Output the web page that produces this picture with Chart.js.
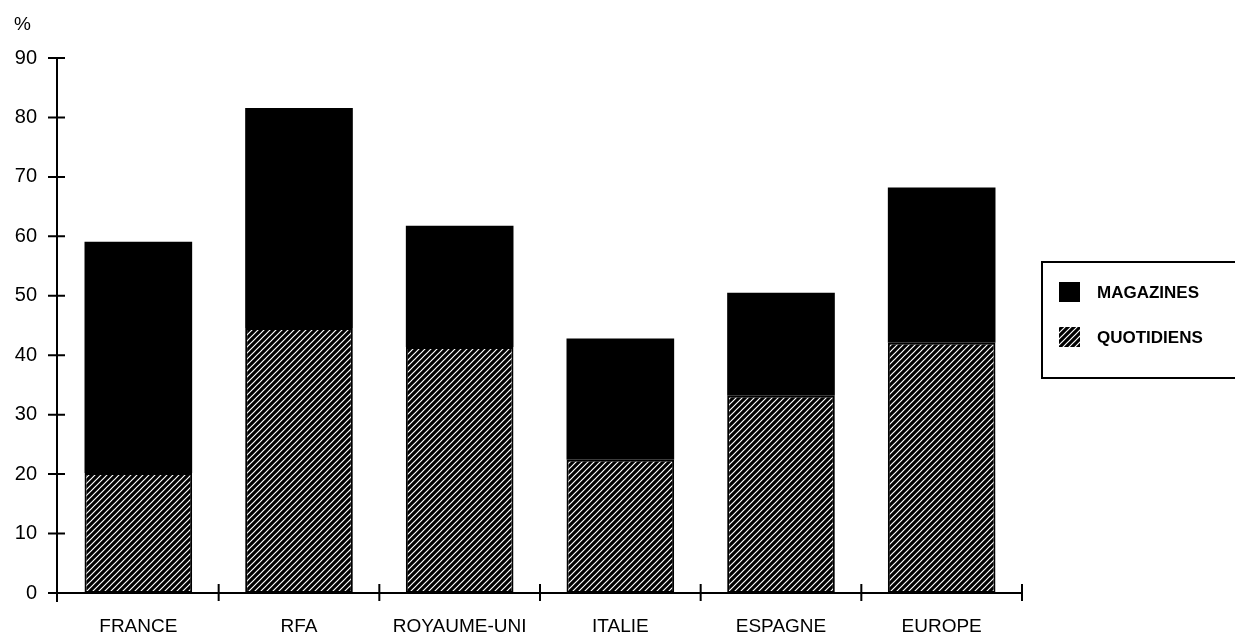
<!DOCTYPE html>
<html>
<head>
<meta charset="utf-8">
<script src="https://cdn.jsdelivr.net/npm/chart.js@4.4.0/dist/chart.umd.min.js"></script>
<style>
  body { margin: 0; background: #fff; }
  #wrap { width: 1235px; height: 636px; position: relative; }
</style>
</head>
<body>
<div id="wrap"><canvas id="pressChart"></canvas></div>
<script>
// Parts de la publicité presse (%)
const countries = ['FRANCE', 'RFA', 'ROYAUME-UNI', 'ITALIE', 'ESPAGNE', 'EUROPE'];
const quotidiens = [20.2, 44.6, 41.4, 22.4, 33.2, 42.1];
const magazines = [38.9, 37.0, 20.4, 20.4, 17.3, 26.1];
const yTicks = [0, 10, 20, 30, 40, 50, 60, 70, 80, 90];
const seriesNames = ['MAGAZINES', 'QUOTIDIENS'];

const FONT = '"Liberation Sans", Arial, sans-serif';

// hatch pattern: black with thin white diagonals
function makeHatch(ctx) {
    const s = 6;
    const tile = document.createElement('canvas');
    tile.width = s;
    tile.height = s;
    const t = tile.getContext('2d');
    t.fillStyle = '#000';
    t.fillRect(0, 0, s, s);
    t.strokeStyle = '#fff';
    t.lineWidth = 1.2;
    t.beginPath();
    t.moveTo(0, s); t.lineTo(s, 0);
    t.moveTo(-1, 1); t.lineTo(1, -1);
    t.moveTo(s - 1, s + 1); t.lineTo(s + 1, s - 1);
    t.stroke();
    return ctx.createPattern(tile, 'repeat');
}

const ctx = document.getElementById('pressChart').getContext('2d');
const hatch = makeHatch(ctx);

// axes, crossing ticks, "%" label and the legend box
const decorPlugin = {
    id: 'decor',
    afterDatasetsDraw(chart) {
        const c = chart.ctx;
        const area = chart.chartArea;
        const x = chart.scales.x;
        const y = chart.scales.y;
        const y0 = y.getPixelForValue(0);
        const ax = area.left - 1;
        c.save();
        c.strokeStyle = '#000';
        c.lineWidth = 2;
        c.beginPath();
        // y axis
        c.moveTo(ax, y.getPixelForValue(90));
        c.lineTo(ax, y0 + 9);
        yTicks.forEach(v => {
            const py = y.getPixelForValue(v);
            c.moveTo(ax - 9, py);
            c.lineTo(ax + 8, py);
        });
        // x axis
        c.moveTo(ax, y0);
        c.lineTo(area.right, y0);
        const step = x.getPixelForValue(1) - x.getPixelForValue(0);
        for (let i = 0; i < countries.length; i++) {
            const px = x.getPixelForValue(i) + step / 2;
            c.moveTo(px, y0 - 9);
            c.lineTo(px, y0 + 8);
        }
        c.stroke();

        c.fillStyle = '#000';
        c.font = '19px ' + FONT;
        c.textBaseline = 'middle';
        c.textAlign = 'left';
        c.fillText('%', 14, 25);

        // legend
        c.lineWidth = 2;
        c.strokeRect(1042, 262, 260, 116);
        c.fillStyle = '#000';
        c.fillRect(1059, 282, 21, 20);
        c.fillStyle = hatch;
        c.fillRect(1059, 327, 21, 20);
        c.fillStyle = '#000';
        c.font = 'bold 17px "Liberation Sans Narrow", ' + FONT;
        c.fillText(seriesNames[0], 1097, 293);
        c.fillText(seriesNames[1], 1097, 338);
        c.restore();
    }
};

const chart = new Chart(ctx, {
    type: 'bar',
    data: {
        labels: countries,
        datasets: [
            {
                label: seriesNames[1],
                data: quotidiens,
                backgroundColor: hatch,
                borderColor: '#000',
                borderWidth: 2,
                borderSkipped: false,
                barPercentage: 0.67,
                categoryPercentage: 1
            },
            {
                label: seriesNames[0],
                data: magazines,
                backgroundColor: '#000',
                borderWidth: 0,
                barPercentage: 0.67,
                categoryPercentage: 1
            }
        ]
    },
    options: {
        responsive: true,
        maintainAspectRatio: false,
        animation: false,
        layout: { padding: { left: 2, right: 213, top: 58, bottom: 0 } },
        plugins: {
            legend: { display: false },
            tooltip: { enabled: false }
        },
        scales: {
            x: {
                stacked: true,
                grid: { display: false, drawTicks: false },
                border: { display: false },
                ticks: {
                    color: '#000',
                    padding: 22,
                    font: { family: FONT, size: 19 }
                },
                afterFit(scale) { scale.height = 43; }
            },
            y: {
                stacked: true,
                min: 0,
                max: 90,
                grid: { display: false, drawTicks: false },
                border: { display: false },
                ticks: {
                    color: '#000',
                    stepSize: 10,
                    padding: 21,
                    font: { family: FONT, size: 20 }
                },
                afterFit(scale) { scale.width = 56; }
            }
        }
    },
    plugins: [decorPlugin]
});
</script>
</body>
</html>
